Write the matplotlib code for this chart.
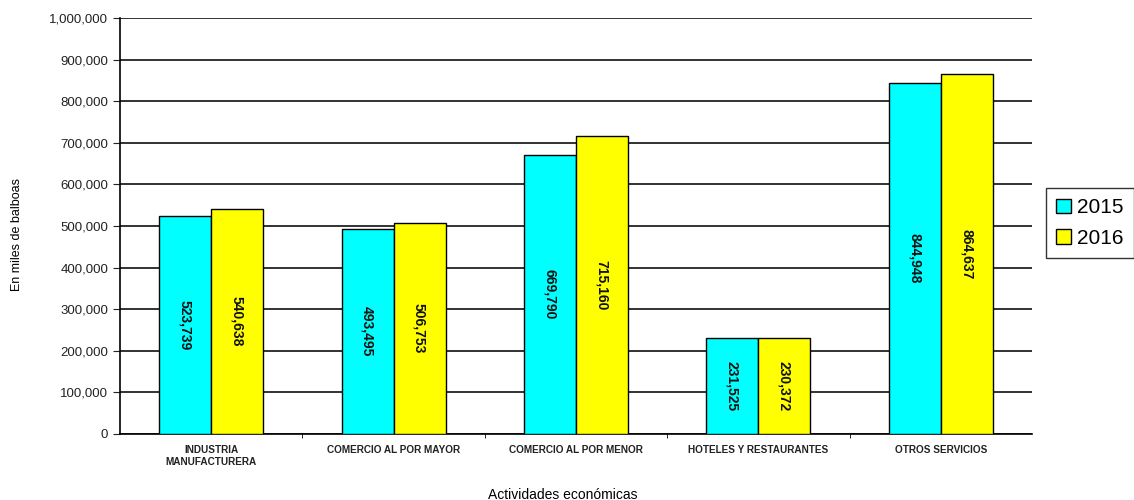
import matplotlib
matplotlib.use("Agg")
import matplotlib.pyplot as plt
import numpy as np
from matplotlib.ticker import FuncFormatter, FixedLocator

categories = ["INDUSTRIA\nMANUFACTURERA", "COMERCIO AL POR MAYOR", "COMERCIO AL POR MENOR",
              "HOTELES Y RESTAURANTES", "OTROS SERVICIOS"]
v2015 = [523739, 493495, 669790, 231525, 844948]
v2016 = [540638, 506753, 715160, 230372, 864637]
series_labels = ["2015", "2016"]
colors = ["#00FFFF", "#FFFF00"]

plt.rcParams['font.family'] = ['Liberation Sans', 'DejaVu Sans']

fig = plt.figure(figsize=(11.34, 5.0), dpi=100)
ax = fig.add_axes([0.1058, 0.132, 0.8042, 0.832])

x = np.arange(len(categories))
w = 0.285
for i, (vals, lab, c) in enumerate(zip([v2015, v2016], series_labels, colors)):
    pos = x + (i - 0.5) * w
    ax.bar(pos, vals, width=w, color=c, edgecolor="black", linewidth=1.0, label=lab, zorder=3)
    for xp, v in zip(pos, vals):
        ax.text(xp, v / 2, f"{v:,}", rotation=270, ha="center", va="center",
                fontsize=10, fontweight="bold", color="#111111", zorder=4)

ax.set_xlim(-0.5, len(categories) - 0.5)
ax.set_ylim(0, 1000000)
ax.set_yticks(np.arange(0, 1000001, 100000))
ax.yaxis.set_major_formatter(FuncFormatter(lambda v, p: f"{int(v):,}"))
ax.yaxis.grid(True, color="#222222", linewidth=1.3, zorder=0)
ax.set_axisbelow(True)

ax.set_xticks(x)
ax.set_xticklabels(categories, fontsize=7.2, fontweight="bold", color="#222222")
ax.tick_params(axis="x", which="major", length=0, pad=8)
ax.xaxis.set_minor_locator(FixedLocator(np.arange(0.5, len(categories) - 1, 1.0)))
ax.tick_params(axis="x", which="minor", length=3, direction="out")
ax.tick_params(axis="y", labelsize=9.5, colors="#222222", length=5)

for s in ["top", "right"]:
    ax.spines[s].set_visible(False)
ax.spines["left"].set_linewidth(1.2)
ax.spines["bottom"].set_linewidth(1.2)

ax.set_xlabel("Actividades económicas", fontsize=10)
ax.xaxis.set_label_coords(0.486, -0.13)
ax.set_ylabel("En miles de balboas", fontsize=9)
ax.yaxis.set_label_coords(-0.106, 0.48)

leg = fig.legend(loc="upper left", bbox_to_anchor=(0.922, 0.624), fontsize=15,
                 frameon=True, fancybox=False, edgecolor="black", handlelength=0.7,
                 handleheight=0.7, handletextpad=0.3, borderpad=0.5, labelspacing=0.55,
                 borderaxespad=0)
leg.get_frame().set_linewidth(1.0)

fig.savefig("out.png", dpi=100)
